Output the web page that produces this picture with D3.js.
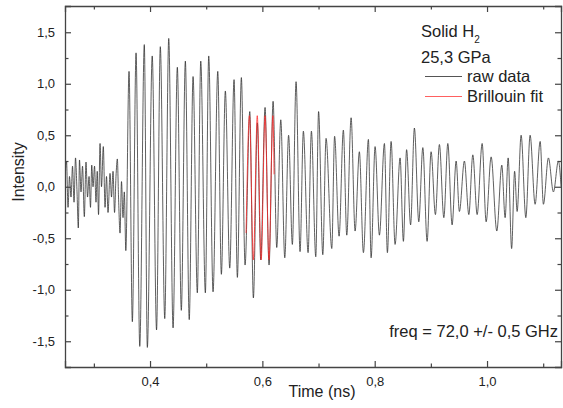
<!DOCTYPE html>
<html>
<head>
<meta charset="utf-8">
<script src="https://cdn.jsdelivr.net/npm/d3@7"></script>
<style>
  body { margin: 0; background: #fff; }
  text { font-family: "Liberation Sans", Arial, sans-serif; fill: #222; }
</style>
</head>
<body>
<div id="chart"></div>
<script>
var rawTime = [0.2486, 0.2513, 0.2540, 0.2566, 0.2593, 0.2620, 0.2647, 0.2673, 0.2700, 0.2723,
    0.2744, 0.2771, 0.2798, 0.2830, 0.2860, 0.2887, 0.2914, 0.2940, 0.2962, 0.2985,
    0.3012, 0.3038, 0.3060, 0.3083, 0.3110, 0.3136, 0.3168, 0.3199, 0.3225, 0.3252,
    0.3288, 0.3314, 0.3341, 0.3368, 0.3394, 0.3418, 0.3439, 0.3466, 0.3492, 0.3519,
    0.3542, 0.3569, 0.3626, 0.3685, 0.3751, 0.3817, 0.3898, 0.3952, 0.4039, 0.4116,
    0.4183, 0.4262, 0.4333, 0.4410, 0.4486, 0.4557, 0.4629, 0.4698, 0.4766, 0.4842,
    0.4903, 0.4985, 0.5045, 0.5122, 0.5206, 0.5270, 0.5341, 0.5419, 0.5496, 0.5555,
    0.5626, 0.5692, 0.5776, 0.5840, 0.5911, 0.5971, 0.6048, 0.6119, 0.6191, 0.6256,
    0.6328, 0.6399, 0.6467, 0.6534, 0.6600, 0.6671, 0.6730, 0.6814, 0.6873, 0.6951,
    0.7001, 0.7076, 0.7134, 0.7236, 0.7286, 0.7366, 0.7442, 0.7503, 0.7580, 0.7651,
    0.7727, 0.7799, 0.7888, 0.7936, 0.8007, 0.8084, 0.8173, 0.8226, 0.8292, 0.8363,
    0.8452, 0.8511, 0.8568, 0.8639, 0.8707, 0.8785, 0.8857, 0.8933, 0.9004, 0.9081,
    0.9152, 0.9231, 0.9302, 0.9378, 0.9450, 0.9508, 0.9597, 0.9676, 0.9747, 0.9824,
    0.9913, 0.9984, 1.0073, 1.0174, 1.0263, 1.0322, 1.0376, 1.0438, 1.0491, 1.0536,
    1.0607, 1.0691, 1.0767, 1.0856, 1.0946, 1.1004, 1.1093, 1.1182, 1.1271, 1.1319];

var rawIntensity = [0.05, 0.25, -0.20, 0.10, -0.10, 0.20, -0.15, 0.28, -0.05, -0.40,
    0.26, -0.05, 0.20, -0.29, 0.24, -0.10, 0.10, -0.20, 0.21, 0.00,
    0.20, -0.15, 0.15, -0.27, 0.42, 0.00, 0.39, -0.20, 0.10, -0.25,
    0.13, -0.10, 0.15, -0.25, 0.10, 0.27, -0.10, -0.45, 0.05, -0.30,
    -0.05, -0.62, 1.12, -1.31, 1.30, -1.55, 1.38, -1.56, 1.27, -1.39,
    1.36, -1.28, 1.44, -1.37, 1.16, -1.20, 1.22, -1.29, 1.07, -1.03,
    1.22, -1.03, 1.27, -1.02, 1.12, -0.85, 0.93, -0.79, 1.04, -0.88,
    1.06, -0.76, 0.73, -1.08, 0.62, -0.71, 0.77, -0.76, 0.83, -0.59,
    0.65, -0.69, 0.50, -0.56, 1.02, -0.63, 0.54, -0.64, 0.54, -0.68,
    0.73, -0.66, 0.47, -0.60, 0.49, -0.48, 0.55, -0.47, 0.67, -0.43,
    0.34, -0.64, 0.46, -0.69, 0.39, -0.47, 0.42, -0.64, 0.44, -0.56,
    0.28, -0.53, 0.36, -0.37, 0.57, -0.34, 0.38, -0.53, 0.34, -0.27,
    0.41, -0.30, 0.42, -0.37, 0.25, -0.24, 0.25, -0.27, 0.31, -0.27,
    0.42, -0.34, 0.29, -0.43, 0.21, -0.30, 0.28, -0.60, 0.15, -0.24,
    0.50, -0.30, 0.50, -0.17, 0.44, -0.17, 0.28, -0.05, 0.25, 0.00];

// Brillouin fit (72 GHz), turning points
var fitTime = [0.5710, 0.5770, 0.5840, 0.5909, 0.5979, 0.6048, 0.6118, 0.6187, 0.6208];
var fitIntensity = [-0.45, 0.69, -0.71, 0.69, -0.71, 0.69, -0.71, 0.69, 0.12];

var xMajor = [0.4, 0.6, 0.8, 1.0];
var xMinor = [0.3, 0.5, 0.7, 0.9, 1.1];
var yMajor = [-1.5, -1.0, -0.5, 0.0, 0.5, 1.0, 1.5];
var yMinor = [-1.25, -0.75, -0.25, 0.25, 0.75, 1.25];

var svgWidth = 563;
var svgHeight = 408;

var margin = { top: 6, right: 2, bottom: 41, left: 65 };
var width = svgWidth - margin.left - margin.right;
var height = svgHeight - margin.top - margin.bottom;

var svg = d3.select("#chart")
    .append("svg")
    .attr("width", svgWidth)
    .attr("height", svgHeight);

var chartGroup = svg.append("g")
    .attr("transform", `translate(${margin.left}, ${margin.top})`);

var xScale = d3.scaleLinear().domain([0.2486, 1.1317]).range([0, width]);
var yScale = d3.scaleLinear().domain([-1.75, 1.755]).range([height, 0]);

// decimal comma, plain hyphen for minus
var fmt = d => d3.format(".1f")(d).replace(".", ",").replace("−", "-");

chartGroup.append("clipPath").attr("id", "clip")
    .append("rect").attr("width", width).attr("height", height);

// traces
var line = d3.line()
    .x(d => xScale(d[0]))
    .y(d => yScale(d[1]))
    .curve(d3.curveMonotoneX);

var rawData = rawTime.map((t, i) => [t, rawIntensity[i]]);
var fitData = fitTime.map((t, i) => [t, fitIntensity[i]]);

var plot = chartGroup.append("g").attr("clip-path", "url(#clip)");

plot.append("path")
    .datum(rawData)
    .attr("d", line)
    .attr("fill", "none")
    .attr("stroke", "#2a2a2a")
    .attr("stroke-width", 0.75);

plot.append("path")
    .datum(fitData)
    .attr("d", line)
    .attr("fill", "none")
    .attr("stroke", "#ff2020")
    .attr("stroke-width", 0.75);

// axes with inward ticks on all four sides
function addAxis(axis, major, minor, transform, labels) {
    var g = chartGroup.append("g").attr("transform", transform);
    g.call(axis.tickValues(major).tickSize(-6).tickPadding(labels ? 10 : 0)
        .tickFormat(labels ? fmt : ""));
    var gm = chartGroup.append("g").attr("transform", transform);
    gm.call(axis.tickValues(minor).tickSize(-3.5).tickFormat(""));
    gm.select(".domain").remove();
    [g, gm].forEach(function (s) {
        s.select(".domain").attr("stroke", "#444").attr("stroke-width", 1.3);
        s.selectAll(".tick line").attr("stroke", "#444").attr("stroke-width", 1.2);
        s.selectAll(".tick text").attr("font-size", "13px").attr("fill", "#222")
            .attr("font-family", "Liberation Sans, Arial, sans-serif");
    });
    return g;
}

addAxis(d3.axisBottom(xScale), xMajor, xMinor, `translate(0, ${height})`, true);
addAxis(d3.axisTop(xScale), xMajor, xMinor, "translate(0, 0)", false);
addAxis(d3.axisLeft(yScale), yMajor, yMinor, "translate(0, 0)", true);
addAxis(d3.axisRight(yScale), yMajor, yMinor, `translate(${width}, 0)`, false);

// axis titles
svg.append("text")
    .attr("transform", "translate(24, 172) rotate(-90)")
    .attr("text-anchor", "middle")
    .attr("font-size", "16px")
    .text("Intensity");

svg.append("text")
    .attr("x", 322)
    .attr("y", 397)
    .attr("text-anchor", "middle")
    .attr("font-size", "16px")
    .text("Time (ns)");

// legend
var legend = svg.append("g");

var title = legend.append("text")
    .attr("x", 421)
    .attr("y", 37)
    .attr("font-size", "16.5px")
    .text("Solid H");
title.append("tspan")
    .attr("dy", 6)
    .attr("font-size", "10px")
    .text("2");

legend.append("text")
    .attr("x", 421)
    .attr("y", 63)
    .attr("font-size", "16.5px")
    .text("25,3 GPa");

var legendItems = [["raw data", "#555"], ["Brillouin fit", "#ff6060"]];
legendItems.forEach(function (d, i) {
    legend.append("line")
        .attr("x1", 425).attr("x2", 462)
        .attr("y1", 76.5 + i * 20).attr("y2", 76.5 + i * 20)
        .attr("stroke", d[1]).attr("stroke-width", 1);
    legend.append("text")
        .attr("x", 467)
        .attr("y", 82 + i * 20)
        .attr("font-size", "16.5px")
        .text(d[0]);
});

svg.append("text")
    .attr("x", 558)
    .attr("y", 337)
    .attr("text-anchor", "end")
    .attr("font-size", "16.5px")
    .text("freq = 72,0 +/- 0,5 GHz");
</script>
</body>
</html>
